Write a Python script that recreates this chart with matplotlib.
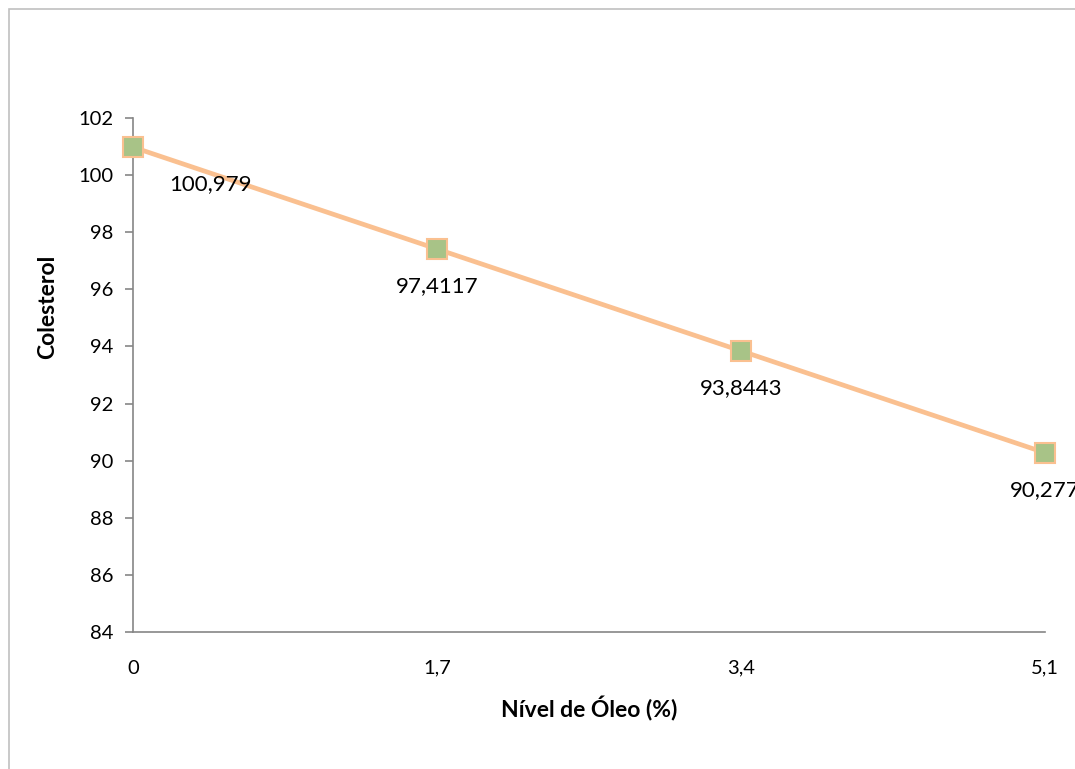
import matplotlib
matplotlib.use("Agg")
import matplotlib.pyplot as plt
from matplotlib.patches import Rectangle

plt.rcParams['font.family'] = ['Lato', 'DejaVu Sans']

# oil level (%) vs cholesterol
niveis = [0, 1.7, 3.4, 5.1]
nivel_labels = ['0', '1,7', '3,4', '5,1']
colesterol = [100.979, 97.4117, 93.8443, 90.277]
rotulos = ['100,979', '97,4117', '93,8443', '90,277']
y_ticks = list(range(84, 103, 2))

fig = plt.figure(figsize=(10.75, 7.69), dpi=100)
ax = fig.add_axes([133/1075, 1 - 632/769, (1045 - 133)/1075, (632 - 118)/769])

# outer chart frame (only top/left edges fall inside the image)
fig.patches.append(Rectangle((9/1075, -0.1), 1.2, (769 - 9)/769 + 0.1,
                             transform=fig.transFigure, fill=False,
                             edgecolor='#c0c0c0', linewidth=1.2))

ax.plot(niveis, colesterol, color='#fac090', linewidth=3.4,
        marker='s', markersize=14, markerfacecolor='#a8c387',
        markeredgecolor='#fac090', markeredgewidth=1.5, clip_on=False, zorder=3)

offsets = [(77, -37), (0, -37), (0, -37), (0, -37)]
for x, y, txt, off in zip(niveis, colesterol, rotulos, offsets):
    ax.annotate(txt, (x, y), xytext=off, textcoords='offset pixels',
                ha='center', va='center', fontsize=16, color='black',
                annotation_clip=False)

ax.set_xlim(0, 5.1)
ax.set_ylim(84, 102)
ax.set_xticks(niveis)
ax.set_xticklabels(nivel_labels)
ax.set_yticks(y_ticks)

for s in ['top', 'right']:
    ax.spines[s].set_visible(False)
for s in ['left', 'bottom']:
    ax.spines[s].set_color('#868686')
    ax.spines[s].set_linewidth(1.2)

ax.tick_params(axis='y', direction='out', length=6, width=1.2,
               color='#868686', labelsize=14.5, pad=8)
ax.tick_params(axis='x', length=0, labelsize=14.5, pad=20)

ax.set_xlabel('Nível de Óleo (%)', fontsize=16.5, fontweight='bold', labelpad=14)
ax.set_ylabel('Colesterol', fontsize=16.5, fontweight='bold')
ax.yaxis.set_label_coords(-0.094, 0.632)
ax.yaxis.label.set_va('center')

fig.savefig('out.png', dpi=100, facecolor='white')
